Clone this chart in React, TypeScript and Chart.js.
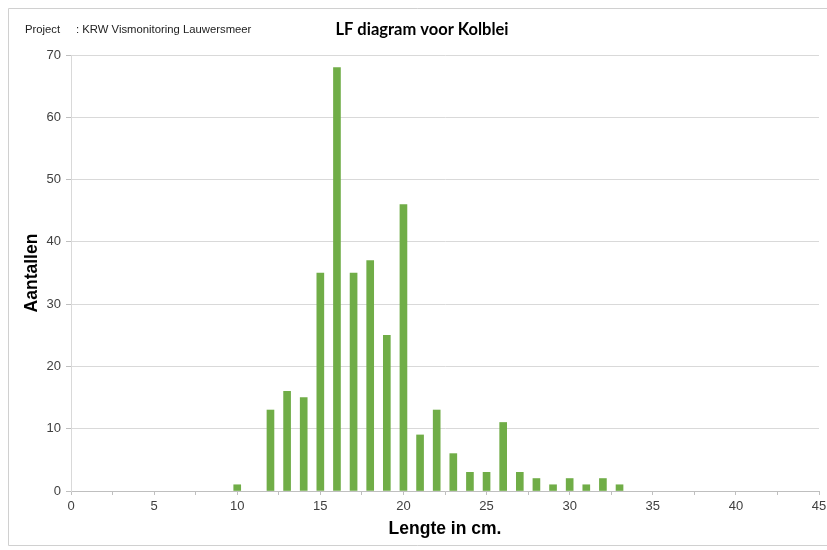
import React, { useEffect, useRef } from "react";
import { Chart, registerables } from "chart.js";

Chart.register(...registerables);

const lengths = [10, 12, 13, 14, 15, 16, 17, 18, 19, 20, 21, 22, 23, 24, 25, 26, 27, 28, 29, 30, 31, 32, 33];
const counts = [1, 13, 16, 15, 35, 68, 35, 37, 25, 46, 9, 13, 6, 3, 3, 11, 3, 2, 1, 2, 1, 2, 1];

const titleText = "LF diagram voor Kolblei";
const projectLabel = "Project";
const projectValue = ": KRW Vismonitoring Lauwersmeer";
const xTitle = "Lengte in cm.";
const yTitle = "Aantallen";

const textPlugin = {
  id: "headerTexts",
  beforeDraw(chart: any) {
    const ctx = chart.ctx;
    ctx.save();
    ctx.fillStyle = "#fff";
    ctx.fillRect(0, 0, chart.width, chart.height);
    ctx.strokeStyle = "#d0d0d0";
    ctx.lineWidth = 1;
    ctx.beginPath();
    ctx.moveTo(chart.width, 0.5);
    ctx.lineTo(0.5, 0.5);
    ctx.lineTo(0.5, chart.height - 0.5);
    ctx.lineTo(chart.width, chart.height - 0.5);
    ctx.stroke();
    ctx.restore();
  },
  afterDraw(chart: any) {
    const ctx = chart.ctx;
    ctx.save();
    ctx.fillStyle = "#222";
    ctx.textBaseline = "middle";
    ctx.textAlign = "left";
    ctx.font = "11.3px 'Liberation Sans', Arial, sans-serif";
    ctx.fillText(projectLabel, 17, 22);
    ctx.fillText(projectValue, 68, 22);
    ctx.fillStyle = "#000";
    ctx.textAlign = "center";
    ctx.font = "bold 16.5px Lato, 'Open Sans', sans-serif";
    ctx.fillText(titleText, 414, 22);
    ctx.restore();
  },
};

export default function App() {
  const ref = useRef<HTMLCanvasElement>(null);
  useEffect(() => {
    document.body.style.margin = "0";
    document.documentElement.style.overflow = "hidden";
    if (!ref.current) return;
    const chart = new Chart(ref.current, {
      type: "bar",
      data: {
        datasets: [
          {
            data: lengths.map((x, i) => ({ x, y: counts[i] })),
            backgroundColor: "#70ad47",
            borderWidth: 0,
            barThickness: 7,
          },
        ],
      },
      options: {
        animation: false,
        responsive: false,
        maintainAspectRatio: false,
        layout: { padding: { top: 47, right: 8, left: 1, bottom: 1 } },
        plugins: {
          legend: { display: false },
          tooltip: { enabled: false },
        },
        scales: {
          x: {
            type: "linear",
            min: 0,
            max: 45,
            offset: false,
            grid: {
              offset: false,
              drawOnChartArea: false,
              drawTicks: true,
              tickLength: 4,
              color: "#bfbfbf",
            },
            border: { color: "#bfbfbf" },
            ticks: {
              stepSize: 2.5,
              autoSkip: false,
              maxRotation: 0,
              padding: 4,
              color: "#404040",
              font: { family: "'Liberation Sans', Arial, sans-serif", size: 13 },
              callback: (v: any) => (Number(v) % 5 === 0 ? String(v) : ""),
            },
            title: {
              display: true,
              text: xTitle,
              color: "#000",
              font: { family: "'Liberation Sans', Arial, sans-serif", size: 17.5, weight: "bold" },
              padding: { top: 4, bottom: 5 },
            },
            afterFit: (s: any) => {
              s.height = 54;
              s.paddingLeft = 0;
              s.paddingRight = 0;
            },
          },
          y: {
            min: 0,
            max: 70,
            ticks: {
              stepSize: 10,
              padding: 5,
              color: "#404040",
              font: { family: "'Liberation Sans', Arial, sans-serif", size: 13 },
            },
            grid: {
              color: "#d9d9d9",
              tickLength: 5,
              tickColor: "#bfbfbf",
            },
            border: { color: "#d9d9d9" },
            title: {
              display: true,
              text: yTitle,
              color: "#000",
              font: { family: "'Liberation Sans', Arial, sans-serif", size: 17.5, weight: "bold" },
              padding: { top: 13, bottom: 0 },
            },
            afterFit: (s: any) => {
              s.width = 62;
            },
          },
        },
      },
      plugins: [textPlugin],
    });
    return () => chart.destroy();
  }, []);
  return (
    <div style={{ paddingLeft: 8, paddingTop: 8, width: 819, height: 538 }}>
      <canvas ref={ref} width={819} height={538} style={{ display: "block" }} />
    </div>
  );
}
